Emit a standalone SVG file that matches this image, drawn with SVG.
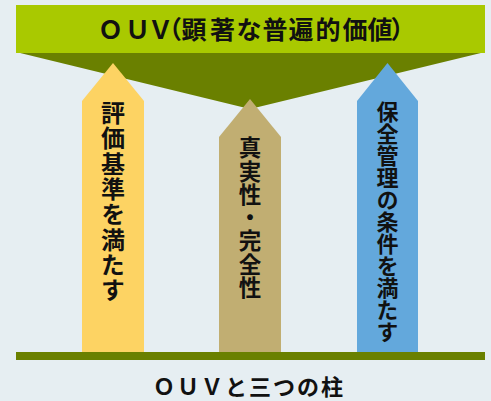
<svg xmlns="http://www.w3.org/2000/svg" width="491" height="401" viewBox="0 0 491 401">
<style>
.t{font-family:"Noto Sans CJK JP","Noto Sans",sans-serif;font-weight:bold;fill:#111;}
.v{writing-mode:vertical-rl;text-orientation:upright;}
</style>
<rect x="0" y="0" width="491" height="401" fill="#e6eef2"/>
<g id="ouv">
<polygon points="16,52 485,52 250,109" fill="#6a8000"/>
<rect x="16" y="5" width="469" height="48" fill="#a9c900"/>
<text class="t" x="98 125 148 157 181.5 210 236.5 262.5 288.5 315.5 342.5 367.5 390.5" y="39" font-size="25">ＯＵＶ（顕著な普遍的価値）</text>
</g>
<g id="pillar1">
<polygon points="82,352 82,101 113,63 144,101 144,352" fill="#fdd363"/>
<text class="t v" x="113" y="101" font-size="24" letter-spacing="1.3">評価基準を満たす</text>
</g>
<g id="pillar2">
<polygon points="219,352 219,137 250,99 281,137 281,352" fill="#c1ae72"/>
<text class="t v" x="250" y="136.5" font-size="22.5" letter-spacing="0.8">真実性・完全性</text>
</g>
<g id="pillar3">
<polygon points="357,352 357,101 387.5,63 418,101 418,352" fill="#63a8dc"/>
<text class="t v" x="387.5" y="100.5" font-size="22" letter-spacing="0">保全管理の条件を満たす</text>
</g>
<g id="base">
<rect x="16" y="352" width="469" height="8" fill="#6a8000"/>
</g>
<g id="caption">
<text class="t" x="153" y="395" font-size="22" letter-spacing="2">ＯＵＶと三つの柱</text>
</g>
<g id="connectors"></g>
</svg>
